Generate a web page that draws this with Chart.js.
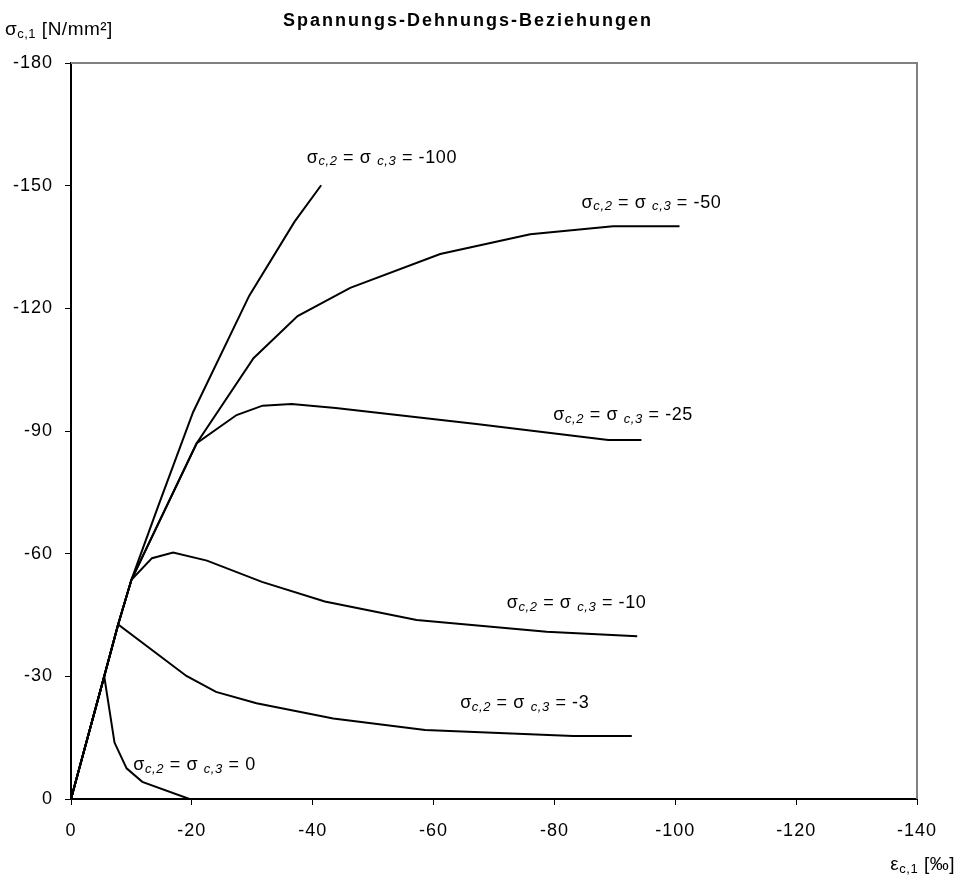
<!DOCTYPE html>
<html>
<head>
<meta charset="utf-8">
<script src="https://cdn.jsdelivr.net/npm/chart.js@4.4.1/dist/chart.umd.min.js"></script>
<style>
  html, body { margin: 0; padding: 0; background: #fff; }
</style>
</head>
<body>
<canvas id="chart" width="964" height="877"></canvas>
<script>
// Spannungs-Dehnungs-Linien, je Seitendruck sigma_c,2 = sigma_c,3
// eps = Dehnung [‰], sig = Spannung [N/mm²]
const eps0 = [0, -5.5, -7.2, -9.2, -11.8, -19.6];
const sig0 = [0, -30, -13.8, -7.5, -4.2, 0];

const eps3 = [0, -5.5, -7.8, -19.1, -24.0, -30.7, -43.4, -58.6, -83.1, -92.8];
const sig3 = [0, -30, -42.7, -30.1, -26.2, -23.4, -19.7, -16.9, -15.4, -15.4];

const eps10 = [0, -5.5, -7.8, -10.0, -13.4, -16.9, -22.5, -31.6, -42.0, -57.2, -78.7, -93.7];
const sig10 = [0, -30, -42.7, -53.6, -58.9, -60.3, -58.3, -53.1, -48.3, -43.8, -40.9, -39.8];

const eps25 = [0, -5.5, -7.8, -10.0, -20.8, -27.4, -31.7, -36.5, -43.8, -67.1, -88.9, -94.4];
const sig25 = [0, -30, -42.7, -53.6, -87.0, -93.9, -96.2, -96.6, -95.6, -91.7, -87.8, -87.8];

const eps50 = [0, -5.5, -7.8, -10.0, -20.8, -30.2, -37.5, -46.2, -61.1, -76.0, -89.7, -100.7];
const sig50 = [0, -30, -42.7, -53.6, -87.0, -107.8, -118.1, -125.0, -133.3, -138.1, -140.1, -140.1];

const eps100 = [0, -5.5, -7.8, -10.0, -14.4, -20.2, -29.5, -37.0, -41.4];
const sig100 = [0, -30, -42.7, -53.6, -71.5, -94.6, -123.1, -141.2, -150.1];

const levels = ['0', '-3', '-10', '-25', '-50', '-100'];
const xTickStep = 20;
const yTickStep = 30;

const title = 'Spannungs-Dehnungs-Beziehungen';

function toPoints(xs, ys) {
	return xs.map((x, i) => ({ x: x, y: ys[i] }))
}

const series = [
	toPoints(eps0, sig0),
	toPoints(eps3, sig3),
	toPoints(eps10, sig10),
	toPoints(eps25, sig25),
	toPoints(eps50, sig50),
	toPoints(eps100, sig100)
];

// Beschriftung der Kurven (Ankerpunkt links, Mitte) in Achswerten
const labelAt = [
	{ x: -10.3, y: -8.3 },
	{ x: -64.4, y: -23.5 },
	{ x: -72.1, y: -47.9 },
	{ x: -79.8, y: -93.9 },
	{ x: -84.5, y: -145.8 },
	{ x: -39.0, y: -156.8 }
];

const FONT = '"Liberation Sans", Arial, sans-serif';

// Text mit tiefgestellten Teilen zeichnen
function drawRich(ctx, parts, x, y, align) {
	ctx.save()
	ctx.textBaseline = 'middle'
	ctx.textAlign = 'left'
	let total = 0
	for (const p of parts) {
		ctx.font = p.font
		total += ctx.measureText(p.t).width
	}
	let cx = align === 'right' ? x - total : align === 'center' ? x - total / 2 : x
	for (const p of parts) {
		ctx.font = p.font
		ctx.fillText(p.t, cx, y + (p.dy || 0))
		cx += ctx.measureText(p.t).width
	}
	ctx.restore()
}

function sigmaLabel(level) {
	const big = '18px ' + FONT
	const sub = 'italic 13px ' + FONT
	return [
		{ t: 'σ', font: big },
		{ t: 'c,2', font: sub, dy: 4 },
		{ t: ' = σ ', font: big },
		{ t: 'c,3', font: sub, dy: 4 },
		{ t: ' = ' + level, font: big }
	]
}

const spacingPlugin = {
	id: 'spacing',
	beforeDraw(chart) {
		chart.ctx.letterSpacing = '1px'
	}
};

const framePlugin = {
	id: 'frame',
	beforeDatasetsDraw(chart) {
		const { ctx, chartArea: a } = chart
		ctx.save()
		ctx.strokeStyle = '#808080'
		ctx.lineWidth = 2
		ctx.beginPath()
		ctx.moveTo(a.left, a.top)
		ctx.lineTo(a.right, a.top)
		ctx.lineTo(a.right, a.bottom)
		ctx.stroke()
		ctx.restore()
	}
};

const textPlugin = {
	id: 'texts',
	afterDraw(chart) {
		const { ctx, scales } = chart
		ctx.save()
		ctx.fillStyle = '#000'
		ctx.letterSpacing = '2px'
		ctx.font = 'bold 18px ' + FONT
		ctx.textAlign = 'center'
		ctx.textBaseline = 'middle'
		ctx.fillText(title, 468, 21)

		ctx.letterSpacing = '0.5px'
		drawRich(ctx, [
			{ t: 'σ', font: '19px ' + FONT },
			{ t: 'c,1', font: '13px ' + FONT, dy: 4 },
			{ t: ' [N/mm²]', font: '19px ' + FONT }
		], 5, 30, 'left')

		drawRich(ctx, [
			{ t: 'ε', font: '19px ' + FONT },
			{ t: 'c,1', font: '13px ' + FONT, dy: 4 },
			{ t: ' [‰]', font: '19px ' + FONT }
		], 955, 865, 'right')

		ctx.letterSpacing = '0.6px'
		levels.forEach((lv, i) => {
			const px = scales.x.getPixelForValue(labelAt[i].x)
			const py = scales.y.getPixelForValue(labelAt[i].y)
			drawRich(ctx, sigmaLabel(lv), px, py, 'left')
		})
		ctx.restore()
	}
};

const ctx = document.getElementById('chart');

const config = {
	type: 'scatter',
	data: {
		datasets: series.map((pts, i) => ({
			label: 'σc,2 = σc,3 = ' + levels[i],
			data: pts,
			showLine: true,
			borderColor: '#000',
			borderWidth: 2,
			pointRadius: 0,
			tension: 0
		}))
	},
	options: {
		responsive: false,
		devicePixelRatio: 1,
		animation: false,
		layout: { padding: { top: 63, right: 47, left: 0, bottom: 0 } },
		plugins: {
			legend: { display: false },
			tooltip: { enabled: false },
			title: { display: false }
		},
		scales: {
			x: {
				type: 'linear',
				min: -140,
				max: 0,
				reverse: true,
				afterFit: s => { s.height = 78 },
				ticks: {
					stepSize: xTickStep,
					color: '#000',
					padding: 15,
					font: { family: FONT, size: 18 }
				},
				grid: { drawOnChartArea: false, drawTicks: true, tickLength: 6, color: '#000' },
				border: { display: true, color: '#000', width: 2 }
			},
			y: {
				type: 'linear',
				min: -180,
				max: 0,
				reverse: true,
				afterFit: s => { s.width = 71 },
				ticks: {
					stepSize: yTickStep,
					color: '#000',
					padding: 12,
					font: { family: FONT, size: 18 }
				},
				grid: { drawOnChartArea: false, drawTicks: true, tickLength: 6, color: '#000' },
				border: { display: true, color: '#000', width: 2 }
			}
		}
	},
	plugins: [spacingPlugin, framePlugin, textPlugin]
};

let myChart = new Chart(ctx, config);
</script>
</body>
</html>
